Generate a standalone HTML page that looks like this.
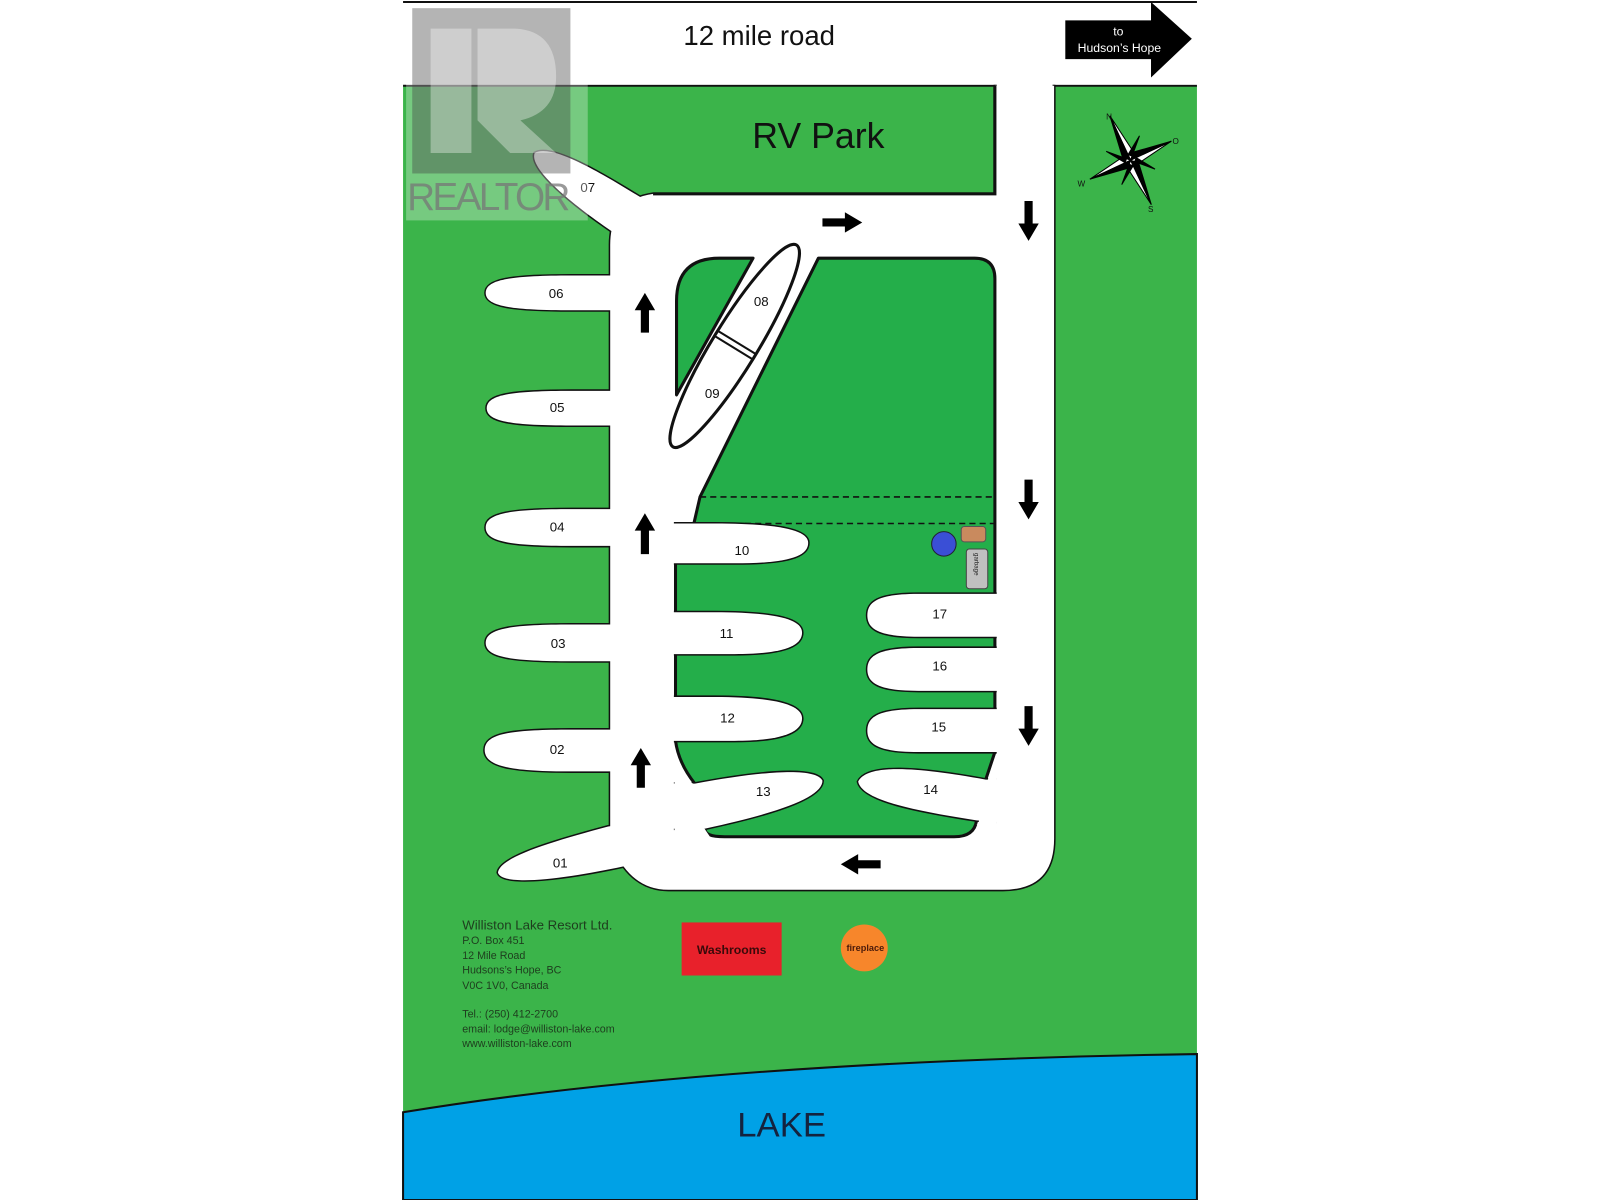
<!DOCTYPE html>
<html><head><meta charset="utf-8"><style>html,body{margin:0;padding:0;background:#fff;width:1600px;height:1200px;overflow:hidden}svg{display:block}text{font-family:"Liberation Sans",sans-serif}</style></head><body>
<svg width="1600" height="1200" viewBox="0 0 1568 1176" preserveAspectRatio="none" xmlns="http://www.w3.org/2000/svg">
<rect x="0" y="0" width="1568" height="1176" fill="#fff"/>
<rect x="395" y="84" width="778" height="1092" fill="#3bb44a"/>
<path d="M395,1090 Q700,1040 1173,1033 L1173,1176 L395,1176 Z" fill="#00a1e6" stroke="#111" stroke-width="2"/>
<line x1="395" y1="2" x2="1173" y2="2" stroke="#111" stroke-width="2"/>
<line x1="395" y1="84" x2="975" y2="84" stroke="#111" stroke-width="2"/>
<line x1="1033" y1="84" x2="1173" y2="84" stroke="#111" stroke-width="2"/>
<g fill="#fff" stroke="#111" stroke-width="3" stroke-linejoin="round">
<path d="M975,84 L1033,84 L1033,822 Q1033,872 983,872 L655,872 Q628,872 611,849 L598,835 L598,240 Q598,196 640,190 L975,190 Z"/>
<path d="M600,270 L560,270 C500,270 476,274 476,287 C476,300 500,304 560,304 L600,304 Z"/>
<path d="M600,383 L560,383 C500,383 477,387 477,400 C477,413 500,417 560,417 L600,417 Z"/>
<path d="M600,499 L560,499 C500,499 476,503 476,517 C476,531 500,535 560,535 L600,535 Z"/>
<path d="M600,612 L560,612 C500,612 476,616 476,630 C476,644 500,648 560,648 L600,648 Z"/>
<path d="M600,715 L560,715 C500,715 475,719 475,735 C475,751 500,756 560,756 L600,756 Z"/>
<path d="M640,200 L632,196 C590,170 540,140 524,150 C518,165 560,200 603,229 L615,240 Z"/>
<path d="M610,808 L596,810 C540,825 490,840 488,855 C492,870 560,860 611,849 L625,850 Z"/>
</g>
<g fill="#fff">
<path d="M975,84 L1033,84 L1033,822 Q1033,872 983,872 L655,872 Q628,872 611,849 L598,835 L598,240 Q598,196 640,190 L975,190 Z"/>
<path d="M600,270 L560,270 C500,270 476,274 476,287 C476,300 500,304 560,304 L600,304 Z"/>
<path d="M600,383 L560,383 C500,383 477,387 477,400 C477,413 500,417 560,417 L600,417 Z"/>
<path d="M600,499 L560,499 C500,499 476,503 476,517 C476,531 500,535 560,535 L600,535 Z"/>
<path d="M600,612 L560,612 C500,612 476,616 476,630 C476,644 500,648 560,648 L600,648 Z"/>
<path d="M600,715 L560,715 C500,715 475,719 475,735 C475,751 500,756 560,756 L600,756 Z"/>
<path d="M640,200 L632,196 C590,170 540,140 524,150 C518,165 560,200 603,229 L615,240 Z"/>
<path d="M610,808 L596,810 C540,825 490,840 488,855 C492,870 560,860 611,849 L625,850 Z"/>
</g>
<path d="M975,84 L975,190 L640,190" fill="none" stroke="#111" stroke-width="3"/>
<g fill="#24ae4a" stroke="#111" stroke-width="3" stroke-linejoin="round">
<path d="M663,387 L663,295 Q663,253 705,253 L738,253 Z"/>
<path d="M802,253 L955,253 Q975,253 975,273 L975,737 L966,764 L957,804 Q955,820 935,820 L710,820 Q690,820 691,812 L686,800 L681,768 Q665,748 662,726 L662,552 L680,513 L686,487 Z"/>
</g>
<line x1="686" y1="487" x2="975" y2="487" stroke="#111" stroke-width="1.5" stroke-dasharray="6,4"/>
<line x1="680" y1="513" x2="975" y2="513" stroke="#111" stroke-width="1.5" stroke-dasharray="6,4"/>
<g fill="#fff" stroke="#111" stroke-width="3" stroke-linejoin="round">
<path d="M650,513 L700,513 C770,513 792,521 792,532 C792,546 770,552 720,552 L650,552 Z"/>
<path d="M650,600 L700,600 C765,600 786,608 786,620 C786,634 765,641 720,641 L650,641 Z"/>
<path d="M650,683 L700,683 C765,683 786,692 786,704 C786,718 765,726 720,726 L650,726 Z"/>
<path d="M650,768 L681,768 C750,755 800,752 806,765 C806,780 770,795 691,812 L650,812 Z"/>
<path d="M985,582 L900,582 C860,582 850,590 850,603 C850,616 860,624 900,624 L985,624 Z"/>
<path d="M985,635 L900,635 C860,635 850,643 850,656 C850,669 860,677 900,677 L985,677 Z"/>
<path d="M985,695 L900,695 C860,695 850,703 850,716 C850,729 860,737 900,737 L985,737 Z"/>
<path d="M985,764 L966,764 C900,752 850,748 841,766 C845,785 900,795 957,804 L985,806 Z"/>
</g>
<g fill="#fff">
<path d="M650,513 L700,513 C770,513 792,521 792,532 C792,546 770,552 720,552 L650,552 Z"/>
<path d="M650,600 L700,600 C765,600 786,608 786,620 C786,634 765,641 720,641 L650,641 Z"/>
<path d="M650,683 L700,683 C765,683 786,692 786,704 C786,718 765,726 720,726 L650,726 Z"/>
<path d="M650,768 L681,768 C750,755 800,752 806,765 C806,780 770,795 691,812 L650,812 Z"/>
<path d="M985,582 L900,582 C860,582 850,590 850,603 C850,616 860,624 900,624 L985,624 Z"/>
<path d="M985,635 L900,635 C860,635 850,643 850,656 C850,669 860,677 900,677 L985,677 Z"/>
<path d="M985,695 L900,695 C860,695 850,703 850,716 C850,729 860,737 900,737 L985,737 Z"/>
<path d="M985,764 L966,764 C900,752 850,748 841,766 C845,785 900,795 957,804 L985,806 Z"/>
<rect x="599.6" y="200" width="60.8" height="635"/>
<rect x="976.8" y="80" width="54.7" height="742"/>
<rect x="655" y="821.8" width="330" height="48.7"/>
<rect x="640" y="191.6" width="335" height="59.7"/>
<rect x="398" y="4" width="775" height="79"/>
<path d="M661,766.2 L677,766.2 L681.5,770 L689,810 L697,821.8 L661,821.8 Z"/>
<path d="M968.5,762.2 L977,762.2 L977,808 L957,808 L959,806 Z"/>
</g>
<g transform="translate(720,339) rotate(-58.5)">
<ellipse cx="0" cy="0" rx="116" ry="22" fill="#fff" stroke="#111" stroke-width="3"/>
<line x1="-2" y1="-22" x2="-2" y2="22" stroke="#111" stroke-width="2"/>
<line x1="4" y1="-22" x2="4" y2="22" stroke="#111" stroke-width="2"/>
</g>
<circle cx="925" cy="533" r="12" fill="#3a4fd6" stroke="#223" stroke-width="1"/>
<rect x="942" y="516" width="24" height="15" rx="3" fill="#c98a5e" stroke="#555" stroke-width="1"/>
<rect x="947" y="538" width="21" height="39" rx="3" fill="#c0c0c0" stroke="#444" stroke-width="1"/>
<text x="0" y="0" font-size="6" fill="#222" transform="translate(955,542) rotate(90)">garbage</text>
<g fill="#000">
<path d="M632,287 L642,304 L636,304 L636,326 L628,326 L628,304 L622,304 Z"/>
<path d="M632,503 L642,520 L636,520 L636,543 L628,543 L628,520 L622,520 Z"/>
<path d="M628,733 L638,750 L632,750 L632,772 L624,772 L624,750 L618,750 Z"/>
<path d="M845,218 L828,208 L828,214 L806,214 L806,222 L828,222 L828,228 Z"/>
<path d="M824,847 L841,837 L841,843 L863,843 L863,851 L841,851 L841,857 Z"/>
<path d="M1008,236 L998,219 L1004,219 L1004,197 L1012,197 L1012,219 L1018,219 Z"/>
<path d="M1008,509 L998,492 L1004,492 L1004,470 L1012,470 L1012,492 L1018,492 Z"/>
<path d="M1008,731 L998,714 L1004,714 L1004,692 L1012,692 L1012,714 L1018,714 Z"/>
<path d="M1044,20 L1128,20 L1128,2 L1168,38 L1128,76 L1128,58 L1044,58 Z"/>
</g>
<text x="1096" y="35" font-size="12" fill="#fff" text-anchor="middle">to</text>
<text x="1097" y="51" font-size="12" fill="#fff" text-anchor="middle">Hudson’s Hope</text>
<g transform="translate(1108,157) rotate(-25)" stroke="#000" stroke-width="1">
<path d="M0,-48 L6,-6 L0,0 Z" fill="#fff"/><path d="M0,-48 L-6,-6 L0,0 Z" fill="#000"/>
<path d="M0,48 L-6,6 L0,0 Z" fill="#fff"/><path d="M0,48 L6,6 L0,0 Z" fill="#000"/>
<path d="M44,0 L6,6 L0,0 Z" fill="#fff"/><path d="M44,0 L6,-6 L0,0 Z" fill="#000"/>
<path d="M-44,0 L-6,-6 L0,0 Z" fill="#fff"/><path d="M-44,0 L-6,6 L0,0 Z" fill="#000"/>
<path d="M18,-18 L3,-3 L0,-6 Z" fill="#000"/><path d="M-18,18 L-3,3 L0,6 Z" fill="#000"/>
<path d="M18,18 L3,3 L6,0 Z" fill="#000"/><path d="M-18,-18 L-3,-3 L-6,0 Z" fill="#000"/>
</g>
<g font-size="8" fill="#111"><text x="1084" y="117">N</text><text x="1149" y="141">O</text><text x="1056" y="183">W</text><text x="1125" y="208">S</text></g>
<text x="744" y="44" font-size="27" fill="#111" text-anchor="middle">12 mile road</text>
<text x="802" y="145" font-size="35" fill="#111" text-anchor="middle">RV Park</text>
<g font-size="13" fill="#111" text-anchor="middle">
<text x="545" y="292">06</text><text x="546" y="404">05</text><text x="546" y="521">04</text><text x="547" y="635">03</text><text x="546" y="739">02</text><text x="549" y="850">01</text><text x="576" y="188">07</text>
<text x="746" y="300">08</text><text x="698" y="390">09</text><text x="727" y="544">10</text><text x="712" y="625">11</text><text x="713" y="708">12</text><text x="748" y="780">13</text>
<text x="912" y="778">14</text><text x="920" y="717">15</text><text x="921" y="657">16</text><text x="921" y="606">17</text>
</g>
<rect x="398" y="8" width="178" height="208" fill="#fff" opacity="0.3"/>
<rect x="404" y="8" width="155" height="162" fill="#444" opacity="0.4"/>
<path d="M422,28 L462,28 L462,150 L422,150 Z M468,28 L505,28 Q545,30 545,75 Q545,110 510,118 L545,150 L500,150 L468,118 Z" fill="#fff" opacity="0.35"/>
<text x="399" y="206" font-size="38" fill="#777" opacity="0.75" textLength="160">REALTOR</text>
<g fill="#1e3d1e">
<text x="453" y="911" font-size="13">Williston Lake Resort Ltd.</text>
<g font-size="10.5"><text x="453" y="925">P.O. Box 451</text><text x="453" y="940">12 Mile Road</text><text x="453" y="954">Hudsons’s Hope, BC</text><text x="453" y="969">V0C 1V0, Canada</text>
<text x="453" y="997">Tel.: (250) 412-2700</text><text x="453" y="1012">email: lodge@williston-lake.com</text><text x="453" y="1026">www.williston-lake.com</text></g>
</g>
<rect x="668" y="904" width="98" height="52" fill="#e8212b"/>
<text x="717" y="935" font-size="12" font-weight="bold" fill="#3a0a0a" text-anchor="middle">Washrooms</text>
<circle cx="847" cy="929" r="23" fill="#f7862b"/>
<text x="848" y="932" font-size="9" font-weight="bold" fill="#4a1a0a" text-anchor="middle">fireplace</text>
<text x="766" y="1114" font-size="34" fill="#14233f" text-anchor="middle">LAKE</text>
</svg>
</body></html>
